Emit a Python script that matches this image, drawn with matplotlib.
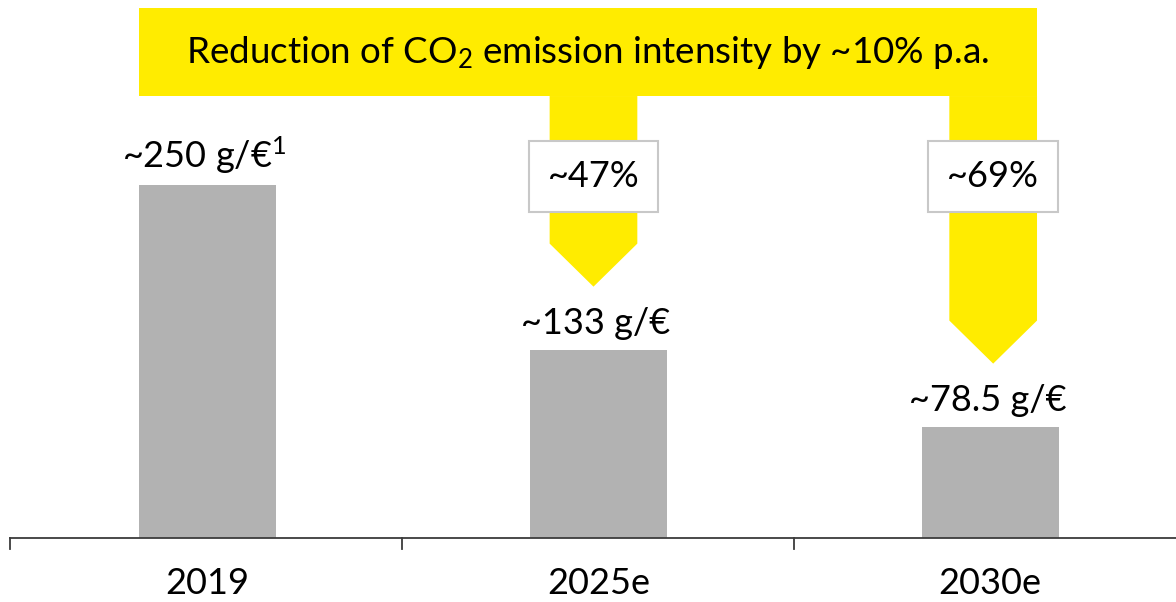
import matplotlib.pyplot as plt
from matplotlib.patches import Polygon, Rectangle

plt.rcParams['font.family'] = ['Lato', 'DejaVu Sans']
plt.rcParams['mathtext.fontset'] = 'custom'
plt.rcParams['mathtext.rm'] = 'Lato'
plt.rcParams['mathtext.it'] = 'Lato'

# data
years = ['2019', '2025e', '2030e']
intensity = [250, 133, 78.5]
value_labels = ['~250 g/€$^{1}$', '~133 g/€', '~78.5 g/€']
reduction = [None, '~47%', '~69%']
banner_text = r'Reduction of CO$_2$ emission intensity by ~10% p.a.'

yellow = '#FFEC00'
grey = '#B2B2B2'
fs = 26

fig = plt.figure(figsize=(11.76, 6.02), dpi=100)
ax = fig.add_axes([0, 0, 1, 1])
ax.set_xlim(-0.529, 2.475)
ax.set_ylim(-45.3, 381)
ax.axis('off')

x = list(range(len(years)))
bars = ax.bar(x, intensity, width=0.35, color=grey, zorder=2)

# baseline + separator ticks
ax.plot([-0.503, 2.475], [0, 0], color='#3c3c3c', lw=1.3, zorder=3, clip_on=False)
for xt in [-0.503, 0.498, 1.499]:
    ax.plot([xt, xt], [0, -7.8], color='#3c3c3c', lw=1.3, zorder=3)

for xi, yr in zip(x, years):
    ax.annotate(yr, (xi, 0), xytext=(0, -33), textcoords='offset points',
                ha='center', va='center', fontsize=fs)

for b, lab in zip(bars, value_labels):
    ax.annotate(lab, (b.get_x() + b.get_width() / 2, b.get_height()),
                xytext=(-2, 12), textcoords='offset points',
                ha='center', va='baseline', fontsize=fs)

# yellow banner with arrows down to the later bars
stem_half = 0.112
stem_shift = [0, -0.013, 0.008]
banner_bottom, banner_top = 313, 375
ax.add_patch(Rectangle((-0.175, banner_bottom), 2.12 + 0.175, banner_top - banner_bottom,
                       color=yellow, lw=0, zorder=1))
ax.text((-0.175 + 2.12) / 2, (banner_bottom + banner_top) / 2, banner_text,
        ha='center', va='center', fontsize=fs + 0.5, zorder=4)

for i in (1, 2):
    cx = x[i] + stem_shift[i]
    tip = intensity[i] + 45
    neck = tip + 30.5
    poly = [(cx - stem_half, banner_bottom), (cx + stem_half, banner_bottom),
            (cx + stem_half, neck), (cx, tip), (cx - stem_half, neck)]
    ax.add_patch(Polygon(poly, closed=True, color=yellow, lw=0, zorder=1))
    ax.text(cx, 256, reduction[i], ha='center', va='center', fontsize=fs, zorder=4,
            bbox=dict(boxstyle='square,pad=0.52', fc='white', ec='#c8c8c8', lw=1.5))

fig.savefig('out.png', dpi=100)
